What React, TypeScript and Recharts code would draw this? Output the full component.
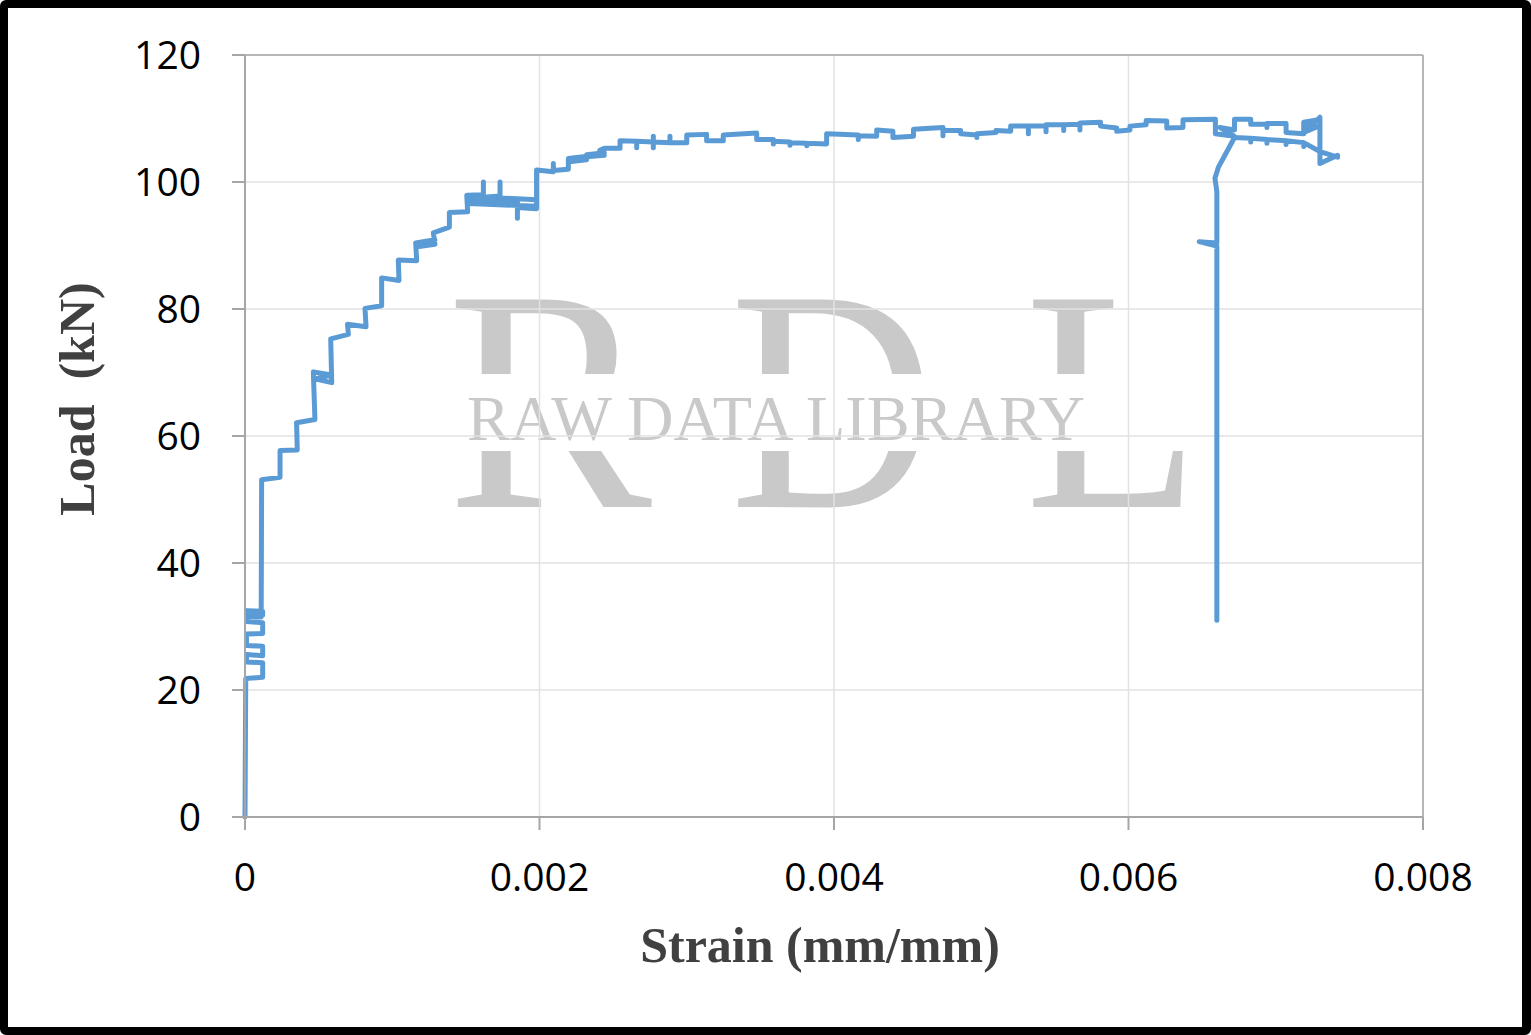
import { LineChart, Line, XAxis, YAxis, CartesianGrid, ReferenceLine } from 'recharts';

// strain (mm/mm) and load (kN), in test order
const strain = [
  // elastic start and the small cycles near 20-32 kN
  0, 0.000005, 0.00012, 0.00012, 0.00001, 0.00001, 0.00012, 0.00012, 0.00001, 0.00001,
  0.00012, 0.00012, 0.00001, 0.00001, 0.00012, 0.00012, 0.00001, 0.00001, 0.00011, 0.000113,
  // stepped rise
  0.000238, 0.000238, 0.000355, 0.00035, 0.000475, 0.000464, 0.000589, 0.000475, 0.000589, 0.000582,
  0.000702, 0.000696, 0.000822, 0.000815, 0.000928, 0.000928, 0.001046, 0.001041, 0.001166, 0.001159,
  0.00129, 0.00117, 0.00129, 0.001279, 0.001388, 0.001388, 0.001512, 0.001506, 0.001619, 0.001619,
  0.001619, 0.001732, 0.001732, 0.001732, 0.00198, 0.00198, 0.00152, 0.00152, 0.00185, 0.00185,
  0.00185, 0.00198, 0.00198, 0.002094, 0.002094, 0.002094, 0.002196, 0.002196, 0.00231, 0.0022,
  0.00232, 0.00232, 0.00244, 0.00234, 0.00244, 0.00241,
  // plateau
  0.00244, 0.002547, 0.002547, 0.00266, 0.00266, 0.00266, 0.002773, 0.002773, 0.002773, 0.002773,
  0.002886, 0.002886, 0.002886, 0.003, 0.003, 0.003135, 0.003135, 0.003248, 0.003248, 0.003475,
  0.003475, 0.003588, 0.003588, 0.003588, 0.003701, 0.003701, 0.003701, 0.003815, 0.003815, 0.003815,
  0.00395, 0.00395, 0.004165, 0.004165, 0.004165, 0.00429, 0.00429, 0.0044, 0.0044, 0.00454,
  0.00454, 0.00474, 0.00474, 0.00474, 0.00486, 0.00486, 0.00497, 0.00497, 0.00497, 0.0051,
  0.0051, 0.0052, 0.0052, 0.00532, 0.00532, 0.00532, 0.00544, 0.00544, 0.00544, 0.00556,
  0.00556, 0.00556, 0.00567, 0.00567, 0.00567, 0.00581, 0.00581, 0.00592, 0.00592, 0.00601,
  0.00601, 0.00612, 0.00612, 0.00626, 0.00626, 0.00637, 0.00637, 0.00659,
  // end of test loop
  0.00659, 0.00672, 0.00662, 0.00672, 0.00672, 0.00683, 0.00683, 0.00694, 0.00694, 0.00694,
  0.00707, 0.00707, 0.00719, 0.00719, 0.00729, 0.00719, 0.00729, 0.00719, 0.0073, 0.0073,
  0.00742, 0.00742, 0.0073, 0.00719, 0.00719, 0.00719, 0.00707, 0.00707, 0.00707, 0.00694,
  0.00694, 0.00694, 0.00683, 0.00683, 0.00683, 0.00672, 0.00661, 0.006587, 0.0066, 0.0066,
  0.00648, 0.0066, 0.0066,
];

const load = [
  0, 21.8, 22.0, 24.3, 24.4, 25.6, 25.4, 26.9, 27.0, 28.8,
  28.9, 30.6, 30.8, 31.9, 31.8, 32.4, 32.5, 31.6, 31.5, 53.1,
  53.5, 57.7, 57.8, 62.1, 62.6, 70.1, 69.6, 69.0, 68.4, 75.3,
  76.0, 77.6, 77.2, 80.1, 80.5, 84.9, 84.5, 87.7, 87.6, 90.4,
  90.9, 89.8, 90.2, 92.0, 92.9, 95.2, 95.3, 97.9, 98.0, 100.0,
  97.6, 97.8, 100.0, 97.5, 97.2, 96.2, 96.6, 97.2, 97.0, 94.3,
  96.0, 95.8, 101.9, 101.6, 102.9, 101.8, 102.0, 103.7, 104.0, 103.2,
  103.5, 104.3, 104.6, 104.0, 104.2, 105.0,
  105.3, 105.3, 106.5, 106.4, 105.4, 106.4, 106.3, 105.4, 107.2, 106.3,
  106.2, 107.2, 106.2, 106.2, 107.4, 107.5, 106.5, 106.5, 107.4, 107.7,
  106.7, 106.7, 106.0, 106.4, 106.3, 105.8, 106.2, 106.1, 105.7, 106.1,
  106.0, 107.6, 107.4, 106.7, 107.3, 107.2, 108.2, 108.0, 107.0, 107.2,
  108.3, 108.6, 107.3, 108.1, 108.1, 107.6, 107.4, 107.0, 107.6, 107.8,
  108.1, 108.0, 108.8, 108.8, 107.6, 108.8, 108.8, 107.9, 109.0, 109.0,
  108.1, 109.0, 109.1, 108.2, 109.3, 109.4, 108.8, 108.5, 108.0, 108.2,
  108.8, 109.0, 109.7, 109.6, 108.5, 108.6, 109.8, 109.9,
  107.6, 107.2, 108.6, 108.2, 109.9, 109.9, 109.1, 109.1, 108.6, 109.2,
  109.2, 107.8, 107.6, 109.4, 109.8, 108.4, 108.8, 107.8, 110.2, 102.9,
  104.2, 103.9, 104.8, 106.2, 105.6, 106.2, 106.5, 105.9, 106.5, 106.7,
  106.1, 106.7, 106.9, 106.3, 106.9, 107.0, 102.3, 100.6, 98.5, 90.4,
  90.6, 89.9, 31.0,
];

const strainTicks = [0, 0.002, 0.004, 0.006, 0.008];
const loadTicks = [0, 20, 40, 60, 80, 100, 120];

const data = strain.map((s, i) => ({ strain: s, load: load[i] }));

const tickFont = { fontFamily: 'Open Sans', fontSize: 39, fill: '#000' };
const titleFont = { fontFamily: 'Liberation Serif', fontSize: 50, fontWeight: 700, fill: '#404040' };

const XTitle = ({ viewBox }: any) => (
  <text x={viewBox.x + viewBox.width / 2 - 14} y={962} textAnchor="middle" style={titleFont}>
    Strain (mm/mm)
  </text>
);

const YTitle = ({ viewBox }: any) => {
  const cx = viewBox.x + 32;
  const cy = 399;
  return (
    <text
      x={cx}
      y={cy}
      textAnchor="middle"
      dominantBaseline="central"
      transform={`rotate(-90 ${cx} ${cy})`}
      style={{ ...titleFont, whiteSpace: 'pre' }}
    >
      {'Load  (kN)'}
    </text>
  );
};

function Watermark() {
  const wm = { fontFamily: 'Liberation Serif', fill: '#c9c9c9' };
  return (
    <svg width={1531} height={1035} style={{ position: 'absolute', left: -8, top: -8 }}>
      <text x={447} y={507} fontSize={317} textLength={205} lengthAdjust="spacingAndGlyphs" style={wm}>R</text>
      <text x={730} y={507} fontSize={317} textLength={205} lengthAdjust="spacingAndGlyphs" style={wm}>D</text>
      <text x={1025} y={507} fontSize={317} textLength={175} lengthAdjust="spacingAndGlyphs" style={wm}>L</text>
      <rect x={440} y={374} width={780} height={77} fill="#fff" />
      <text x={467} y={440} fontSize={63} textLength={618} lengthAdjust="spacingAndGlyphs" style={wm}>
        RAW DATA LIBRARY
      </text>
    </svg>
  );
}

export default function App() {
  return (
    <>
      <style>{'body{margin:0}'}</style>
      <div
        style={{
          position: 'relative',
          width: 1531,
          height: 1035,
          boxSizing: 'border-box',
          border: '8px solid #000',
          borderRightWidth: 9,
          borderRadius: 6,
          background: '#fff',
        }}
      >
        <Watermark />
        <div style={{ position: 'absolute', left: -8, top: -8 }}>
          <LineChart
            width={1531}
            height={1035}
            data={data}
            margin={{ top: 55, right: 108, left: 45, bottom: 118 }}
          >
            <CartesianGrid stroke="#e2e2e2" strokeWidth={1.5} />
            <XAxis
              type="number"
              dataKey="strain"
              domain={[0, 0.008]}
              ticks={strainTicks}
              tickFormatter={(v) => (v === 0 ? '0' : v.toFixed(3))}
              height={100}
              tickSize={13}
              tickMargin={33}
              stroke="#a6a6a6"
              strokeWidth={2}
              tick={tickFont}
              tickLine={{ stroke: '#a6a6a6', strokeWidth: 2 }}
              label={{ content: XTitle }}
            />
            <YAxis
              type="number"
              dataKey="load"
              domain={[0, 120]}
              ticks={loadTicks}
              width={200}
              tickSize={13}
              tickMargin={31}
              stroke="#a6a6a6"
              strokeWidth={2}
              tick={tickFont}
              tickLine={{ stroke: '#a6a6a6', strokeWidth: 2 }}
              label={{ content: YTitle }}
            />
            <ReferenceLine y={120} stroke="#a6a6a6" strokeWidth={1.5} />
            <ReferenceLine x={0.008} stroke="#a6a6a6" strokeWidth={1.5} />
            <Line
              type="linear"
              dataKey="load"
              stroke="#5b9bd5"
              strokeWidth={5}
              strokeLinejoin="round"
              strokeLinecap="round"
              dot={false}
              isAnimationActive={false}
            />
          </LineChart>
        </div>
      </div>
    </>
  );
}
